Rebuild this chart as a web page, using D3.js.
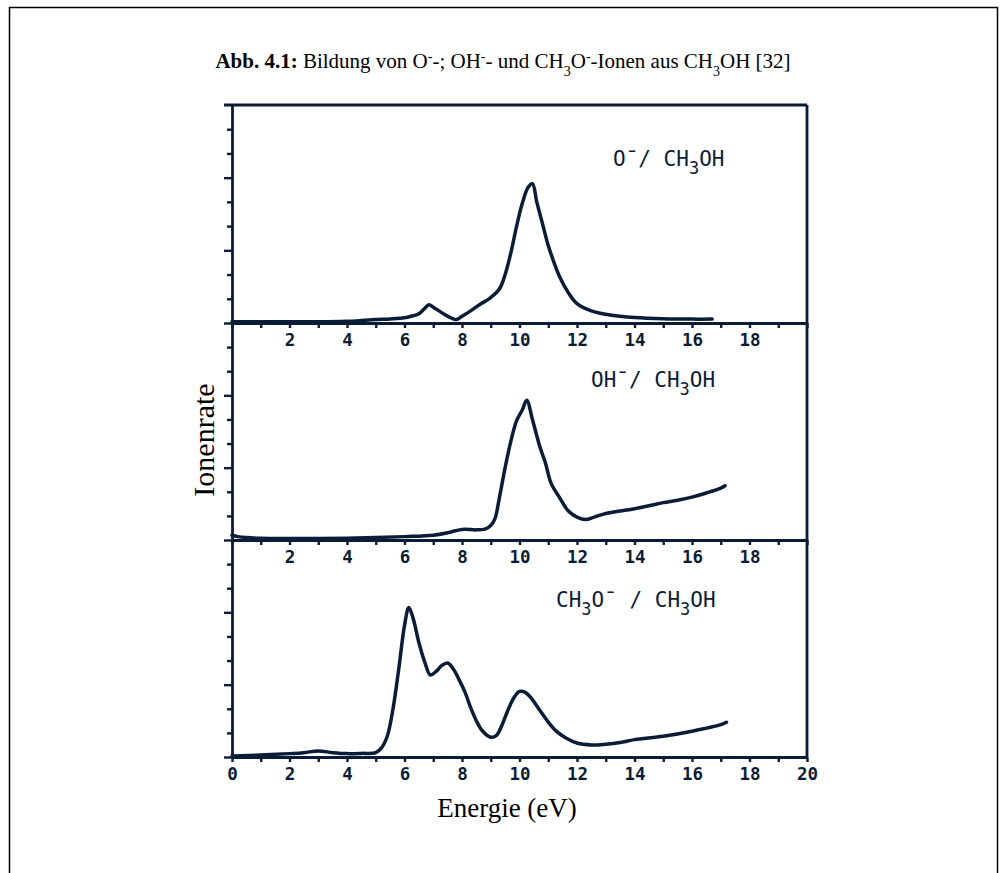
<!DOCTYPE html>
<html>
<head>
<meta charset="utf-8">
<script src="https://cdn.jsdelivr.net/npm/d3@7"></script>
<style>
  html, body { margin: 0; padding: 0; background: #fff; }
  svg { display: block; }
</style>
</head>
<body>
<script>
// ---------- data ----------
const xTickValues = d3.range(0, 21, 1);
const xLabelsUpper = [2, 4, 6, 8, 10, 12, 14, 16, 18];
const xLabelsLower = [0, 2, 4, 6, 8, 10, 12, 14, 16, 18, 20];
const yTickValues = [0, 1, 2, 3, 4, 5, 6, 7, 8];

// O- / CH3OH
const oEnergy = [0, 1, 2, 3, 4, 4.5, 5, 5.5, 6, 6.3, 6.5, 6.7, 6.85, 7.0, 7.2, 7.4, 7.6, 7.8, 8.0, 8.3, 8.6, 9.0, 9.3, 9.5, 9.7, 9.9, 10.1, 10.3, 10.45, 10.6, 10.8, 11.0, 11.2, 11.4, 11.7, 12.0, 12.5, 13.0, 13.5, 14.0, 15.0, 16.0, 16.7];
const oRate   = [0.05, 0.05, 0.05, 0.05, 0.07, 0.1, 0.14, 0.17, 0.22, 0.3, 0.38, 0.6, 0.75, 0.65, 0.5, 0.35, 0.22, 0.14, 0.28, 0.5, 0.75, 1.05, 1.4, 2.0, 2.9, 4.0, 4.95, 5.6, 5.75, 5.0, 4.1, 3.2, 2.5, 1.9, 1.25, 0.8, 0.5, 0.36, 0.28, 0.23, 0.18, 0.16, 0.16];

// OH- / CH3OH
const ohEnergy = [0, 0.2, 0.5, 1, 2, 3, 4, 5, 6, 7, 7.5, 8.0, 8.5, 8.8, 9.0, 9.15, 9.3, 9.5, 9.7, 9.9, 10.1, 10.25, 10.45, 10.7, 10.9, 11.1, 11.4, 11.7, 12.0, 12.3, 12.6, 13.0, 13.5, 14.0, 14.5, 15.0, 15.5, 16.0, 16.5, 17.0, 17.15];
const ohRate   = [0.2, 0.14, 0.1, 0.07, 0.06, 0.06, 0.07, 0.1, 0.14, 0.2, 0.3, 0.44, 0.42, 0.45, 0.6, 0.9, 1.75, 3.0, 4.1, 4.95, 5.4, 5.8, 5.0, 3.9, 3.2, 2.35, 1.75, 1.2, 0.95, 0.85, 0.95, 1.1, 1.2, 1.3, 1.42, 1.55, 1.65, 1.78, 1.95, 2.15, 2.25];

// CH3O- / CH3OH
const ch3oEnergy = [0, 1, 2, 2.5, 3, 3.5, 4, 4.5, 5.0, 5.2, 5.4, 5.6, 5.8, 6.0, 6.15, 6.3, 6.5, 6.7, 6.9, 7.1, 7.3, 7.5, 7.7, 7.9, 8.1, 8.3, 8.5, 8.7, 9.0, 9.2, 9.4, 9.6, 9.8, 10.0, 10.2, 10.4, 10.7, 11.0, 11.3, 11.6, 12.0, 12.5, 13.0, 13.5, 14.0, 15.0, 16.0, 17.0, 17.2];
const ch3oRate   = [0.04, 0.08, 0.14, 0.18, 0.25, 0.18, 0.14, 0.15, 0.18, 0.38, 0.86, 2.0, 3.65, 5.45, 6.2, 5.75, 4.75, 3.95, 3.4, 3.55, 3.8, 3.9, 3.65, 3.2, 2.7, 2.05, 1.5, 1.1, 0.82, 0.9, 1.35, 1.95, 2.45, 2.72, 2.68, 2.45, 1.95, 1.45, 1.05, 0.8, 0.58, 0.5, 0.53, 0.6, 0.72, 0.86, 1.07, 1.34, 1.44];

// ---------- layout ----------
const W = 1007, H = 873;
const ink = "#0b1c36";
const left = 232, right = 807;
const panelEdges = [105, 323, 540, 757];

const svg = d3.select("body").append("svg").attr("width", W).attr("height", H);

// outer frame (open at the bottom)
svg.append("path")
  .attr("d", "M9.5," + H + "V7.5H997.5V" + H)
  .attr("fill", "none").attr("stroke", "#000").attr("stroke-width", 1.5);

// title
const title = svg.append("text")
  .attr("x", 503).attr("y", 68)
  .attr("text-anchor", "middle")
  .style("font-family", "'Liberation Serif', 'Times New Roman', serif")
  .style("font-size", "21px").attr("fill", "#000");
const tParts = [
  ["Abb. 4.1:", "b"], [" Bildung von O", ""], ["-", "sup"], ["-; OH", ""], ["-", "sup"],
  ["- und CH", ""], ["3", "sub"], ["O", ""], ["-", "sup"], ["-Ionen aus CH", ""], ["3", "sub"], ["OH [32]", ""]
];
tParts.forEach(([t, k]) => {
  const s = title.append("tspan").text(t);
  if (k === "b") s.style("font-weight", "bold");
  if (k === "sup") s.attr("baseline-shift", "super").style("font-size", "14px");
  if (k === "sub") s.attr("baseline-shift", "sub").style("font-size", "14px");
});

const x = d3.scaleLinear().domain([0, 20]).range([left, right]);

const series = [
  { e: oEnergy, v: oRate, label: [["O", 0], ["¯", 0], ["/ CH", 0], ["3", 1], ["OH", 0]], lx: 613, ly: 166 },
  { e: ohEnergy, v: ohRate, label: [["OH", 0], ["¯", 0], ["/ CH", 0], ["3", 1], ["OH", 0]], lx: 591, ly: 387 },
  { e: ch3oEnergy, v: ch3oRate, label: [["CH", 0], ["3", 1], ["O", 0], ["¯", 0], [" / CH", 0], ["3", 1], ["OH", 0]], lx: 556, ly: 607 }
];

series.forEach((s, i) => {
  const top = panelEdges[i], bottom = panelEdges[i + 1];
  const y = d3.scaleLinear().domain([0, 9]).range([bottom, top]);
  const g = svg.append("g");

  // y axis (ticks pointing left, every third longer)
  const ya = g.append("g").attr("transform", `translate(${left},0)`)
    .call(d3.axisLeft(y).tickValues(yTickValues).tickSize(6).tickSizeOuter(0).tickFormat(""));
  ya.select(".domain").attr("stroke", ink).attr("stroke-width", 2.8);
  ya.selectAll(".tick line").attr("stroke", ink).attr("stroke-width", 2.4)
    .attr("x2", d => (d % 3 === 0 ? -8 : -5));

  // x axis (ticks pointing down)
  const labels = i === 2 ? xLabelsLower : xLabelsUpper;
  const xa = g.append("g").attr("transform", `translate(0,${bottom})`)
    .call(d3.axisBottom(x).tickValues(xTickValues).tickSize(5).tickSizeOuter(0).tickPadding(6)
      .tickFormat(d => (labels.includes(d) ? d : "")));
  xa.select(".domain").attr("stroke", ink).attr("stroke-width", 2.8);
  xa.selectAll(".tick line").attr("stroke", ink).attr("stroke-width", 2.4);
  xa.selectAll(".tick text")
    .attr("fill", ink)
    .style("font-family", "'DejaVu Sans Mono', monospace")
    .style("font-weight", "bold")
    .style("font-size", "17.5px");

  // data
  const pts = s.e.map((e, k) => [e, s.v[k]]);
  const line = d3.line().x(d => x(d[0])).y(d => y(d[1])).curve(d3.curveCatmullRom.alpha(0.5));
  g.append("path").datum(pts)
    .attr("d", line).attr("fill", "none")
    .attr("stroke", ink).attr("stroke-width", 3.5).attr("stroke-linejoin", "round").attr("stroke-linecap", "round");

  // panel label
  const lt = g.append("text").attr("x", s.lx).attr("y", s.ly)
    .attr("fill", ink)
    .style("font-family", "'DejaVu Sans Mono', monospace")
    .style("font-size", "21px");
  s.label.forEach(([t, sub]) => {
    const sp = lt.append("tspan").text(t);
    if (sub) sp.attr("baseline-shift", "-8px").style("font-size", "17px");
  });
});

// top frame line with small overhang, right frame line
svg.append("line").attr("x1", 224).attr("x2", right).attr("y1", panelEdges[0]).attr("y2", panelEdges[0])
  .attr("stroke", ink).attr("stroke-width", 2.8);
svg.append("line").attr("x1", right).attr("x2", right).attr("y1", panelEdges[0]).attr("y2", panelEdges[3])
  .attr("stroke", ink).attr("stroke-width", 2.8);

// axis titles
svg.append("text")
  .attr("transform", "translate(214,440) rotate(-90)")
  .attr("text-anchor", "middle")
  .style("font-family", "'Liberation Serif', 'Times New Roman', serif")
  .style("font-size", "30px").attr("fill", "#000")
  .text("Ionenrate");
svg.append("text")
  .attr("x", 507).attr("y", 817)
  .attr("text-anchor", "middle")
  .style("font-family", "'Liberation Serif', 'Times New Roman', serif")
  .style("font-size", "27px").attr("fill", "#000")
  .text("Energie (eV)");
</script>
</body>
</html>
